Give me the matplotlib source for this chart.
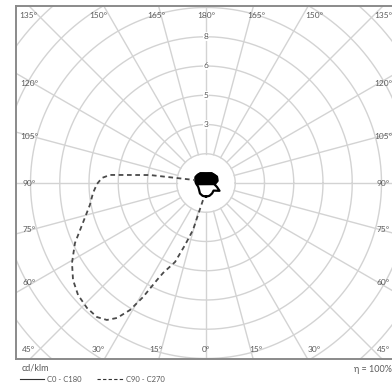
import numpy as np
import matplotlib.pyplot as plt
from matplotlib.lines import Line2D

plt.rcParams['font.family'] = ['Lato', 'DejaVu Sans']

# rings of the polar grid (cd/klm) and the labels printed on them
ring_values = [1.5, 3.0, 4.5, 6.0, 7.5, 9.0, 10.5, 12.0, 13.5]
ring_labels = ['', '3', '5', '6', '8', '', '', '', '']
spoke_angles = list(range(0, 360, 15))

# C0 - C180 plane (solid), gamma in degrees
gamma_c0 = [0, 15, 30, 45, 60, 70, 80, 90, 100, 110, 120, 135, 150, 165, 180]
int_c0 = [0.70, 0.68, 0.62, 0.55, 0.80, 0.60, 0.45, 0.50, 0.60, 0.62, 0.65, 0.60, 0.58, 0.52, 0.50]
int_c180 = [0.70, 0.68, 0.62, 0.50, 0.45, 0.45, 0.48, 0.52, 0.55, 0.58, 0.62, 0.60, 0.58, 0.52, 0.50]

# C90 - C270 plane (dashed)
gamma_c270 = [10, 15.5, 18.7, 21.4, 25.5, 26.8, 28.9, 30.9, 33.4, 35.9, 39.1, 43.6, 48.8, 53.9,
              59.2, 65.4, 71.3, 79.3, 84.9, 89.5, 92.8, 94.8, 98.1, 105]
int_c270 = [0.89, 2.50, 3.36, 4.35, 5.11, 5.57, 6.68, 7.59, 8.29, 8.67, 8.86, 8.85, 8.72, 8.44,
            8.00, 7.39, 6.71, 6.06, 5.82, 5.59, 5.34, 4.94, 2.90, 0.58]

W, H = 392, 387
cx, cy, s = 206, 183, 19.5      # centre in pixels, pixels per cd/klm
bl, br, bt, bb = 16, 393, 6, 359  # frame in pixels

fig = plt.figure(figsize=(W / 100, H / 100), dpi=100)
ax = fig.add_axes([bl / W, 1 - bb / H, (br - bl) / W, (bb - bt) / H])
ax.set_xlim((bl - cx) / s, (br - cx) / s)
ax.set_ylim((cy - bb) / s, (cy - bt) / s)
ax.set_xticks([])
ax.set_yticks([])
for side in ['left', 'top', 'bottom']:
    ax.spines[side].set_color('#8a8a8a')
    ax.spines[side].set_linewidth(1.4)
ax.spines['right'].set_visible(False)

grid_col = '#d3d3d3'
t = np.linspace(0, 2 * np.pi, 400)
for r in ring_values:
    ax.plot(r * np.cos(t), r * np.sin(t), color=grid_col, lw=1.0, zorder=1)
for a in spoke_angles:
    g = np.radians(a)
    ax.plot([1.5 * np.sin(g), 20 * np.sin(g)], [-1.5 * np.cos(g), -20 * np.cos(g)],
            color=grid_col, lw=1.0, zorder=1)

lab_col = '#5a5a5a'
fs = 6
for r, lab in zip(ring_values, ring_labels):
    if lab:
        ax.text(0, r, lab, ha='center', va='center', fontsize=fs, color=lab_col, zorder=3,
                bbox=dict(facecolor='white', edgecolor='none', pad=0.6))

# angle labels round the frame
top_y = (cy - 15) / s
bot_y = (cy - 350) / s
for a in [0, 15, 30, 45]:
    off = min(np.tan(np.radians(a)) * 9.6, 9.1)
    for sg in ([1] if a == 0 else [-1, 1]):
        ax.text(sg * off, top_y, f'{180 - a}°', ha='center', va='center', fontsize=fs, color=lab_col)
        ax.text(sg * off, bot_y, f'{a}°', ha='center', va='center', fontsize=fs, color=lab_col)
side_x = (cx - 29) / s
for b in [-30, -15, 0, 15, 30]:
    yy = np.tan(np.radians(b)) * 8.87
    for sg in [-1, 1]:
        ax.text(sg * side_x, yy, f'{90 + b}°', ha='center', va='center', fontsize=fs, color=lab_col)

# curves
g0 = np.radians(gamma_c0)
x_c0 = np.array(int_c0) * np.sin(g0)
y_c0 = -np.array(int_c0) * np.cos(g0)
x_c180 = -np.array(int_c180) * np.sin(g0)
y_c180 = -np.array(int_c180) * np.cos(g0)
xs = np.concatenate([x_c0, x_c180[::-1]])
ys = np.concatenate([y_c0, y_c180[::-1]])
ax.plot(xs, ys, color='black', lw=1.6, zorder=4)
up = np.array(gamma_c0) >= 80
ax.fill(np.concatenate([x_c0[up], x_c180[up][::-1]]),
        np.concatenate([y_c0[up], y_c180[up][::-1]]), color='black', zorder=4)

g2 = np.radians(gamma_c270)
ax.plot(-np.array(int_c270) * np.sin(g2), -np.array(int_c270) * np.cos(g2),
        color='#4a4a4a', lw=1.3, ls=(0, (2.6, 2.0)), zorder=4)

# footer
fig.text(22 / W, 1 - 368 / H, 'cd/klm', fontsize=6.5, color=lab_col, va='center')
fig.add_artist(Line2D([20 / W, 44 / W], [1 - 379 / H] * 2, color='#333333', lw=0.8,
                      transform=fig.transFigure))
fig.text(47 / W, 1 - 380 / H, 'C0 - C180', fontsize=5.5, color=lab_col, va='center')
fig.add_artist(Line2D([97 / W, 123 / W], [1 - 379 / H] * 2, color='#333333', lw=0.8,
                      ls=(0, (3, 2)), transform=fig.transFigure))
fig.text(126 / W, 1 - 380 / H, 'C90 - C270', fontsize=5.5, color=lab_col, va='center')
fig.text(392 / W, 1 - 369 / H, 'η = 100%', fontsize=6.5, color=lab_col, va='center', ha='right')

fig.savefig('out.png', dpi=100)
